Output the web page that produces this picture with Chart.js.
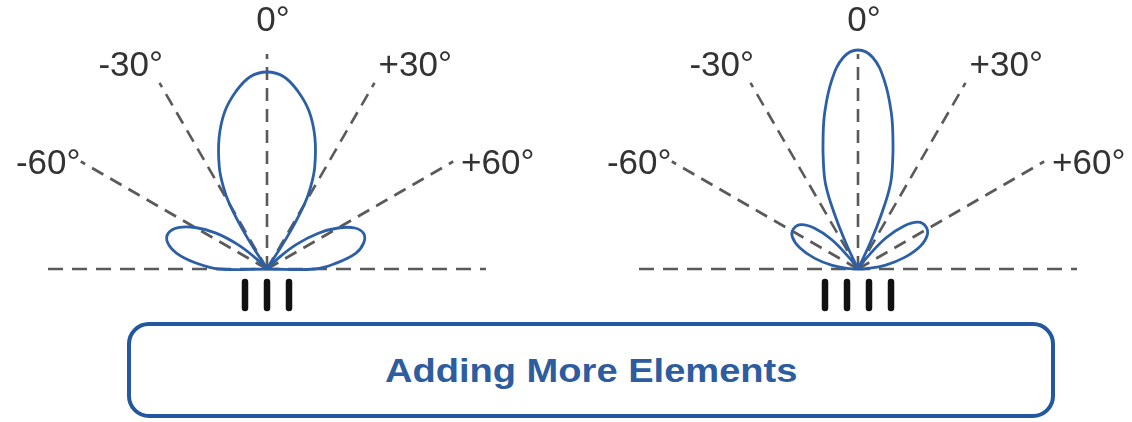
<!DOCTYPE html>
<html>
<head>
<meta charset="utf-8">
<script src="https://cdn.jsdelivr.net/npm/chart.js@4.4.1/dist/chart.umd.min.js"></script>
<style>
  body { margin: 0; background: #fff; }
  #wrap { position: relative; width: 1132px; height: 422px; overflow: hidden; }
  #chart { position: absolute; left: 0; top: 0; }
  #caption {
    position: absolute; left: 127px; top: 322px; width: 920px; height: 88px;
    border: 4px solid #23589e; border-radius: 22px; background: #fff;
    display: flex; align-items: center; justify-content: center;
  }
  #caption span {
    font-family: "Liberation Sans", Arial, sans-serif; font-weight: bold; font-size: 34px;
    color: #2d5c9f; display: inline-block; transform: scaleX(1.12);
  }
</style>
</head>
<body>
<div id="wrap">
  <canvas id="chart" width="1132" height="422"></canvas>
  <div id="caption"><span>Adding More Elements</span></div>
</div>
<script>
// Angles of the reference spokes and their labels
const spokeAngles = [-60, -30, 0, 30, 60];
const angleLabels = ['-60°', '-30°', '0°', '+30°', '+60°'];

// Number of antenna elements in each pattern
const elementCounts = [3, 4];

// Radiation pattern: [angle in degrees, radius]
const mainLobe3 = [[-33, 0], [-32, 40], [-30, 75], [-28, 93], [-25, 113], [-20, 140], [-15, 163], [-10, 180], [-5, 193], [0, 197],
  [5, 193], [10, 180], [15, 163], [20, 140], [25, 113], [28, 93], [30, 75], [32, 40], [33, 0]];
const leftLobe3 = [[-90, 0], [-90, 48], [-85, 72], [-80, 92], [-75, 103], [-70, 105], [-65, 98], [-60, 83], [-55, 63], [-50, 38], [-46, 15], [-43, 0]];
const rightLobe3 = [[43, 0], [46, 15], [50, 38], [55, 62], [60, 82], [65, 97], [70, 103], [75, 100], [80, 90], [85, 70], [90, 48], [90, 0]];

const mainLobe4 = [[-26, 0], [-25, 30], [-23, 62], [-21, 90], [-18, 112], [-15, 135], [-12, 160], [-8, 190], [-4, 212], [0, 219],
  [4, 212], [8, 190], [12, 160], [15, 135], [18, 112], [21, 90], [23, 62], [25, 30], [26, 0]];
const leftLobe4 = [[-35, 0], [-38, 15], [-42, 40], [-47, 60], [-52, 72], [-58, 76], [-64, 73], [-70, 62], [-76, 45], [-82, 26], [-88, 8], [-90, 0]];
const rightLobe4 = [[35, 0], [38, 15], [42, 42], [47, 63], [52, 76], [58, 80], [64, 77], [70, 66], [76, 48], [82, 28], [88, 8], [90, 0]];

// layout
const centers = [267, 858];
const spokeLength = 215;
const baseHalf = 219;
const labelRadius = 248;
const labelTurn = 5;
const elementGap = 22;
const lobeColor = '#2c5fa6';
const dashColor = '#5a5a5a';

const rad = a => a * Math.PI / 180;
const polar = (cx, pts) => pts.map(([a, r]) => ({ x: cx + r * Math.sin(rad(a)), y: r * Math.cos(rad(a)) }));

const datasets = [];
const patterns = [[mainLobe3, leftLobe3, rightLobe3], [mainLobe4, leftLobe4, rightLobe4]];

centers.forEach((cx, d) => {
  patterns[d].forEach(lobe => {
    datasets.push({ data: polar(cx, lobe), borderColor: lobeColor, borderWidth: 2.8, tension: 0.4 });
  });
  spokeAngles.forEach(a => {
    datasets.push({ data: polar(cx, [[a, 0], [a, spokeLength]]), borderColor: dashColor, borderWidth: 2.6, borderDash: [13, 8] });
  });
  datasets.push({ data: [{ x: cx - baseHalf, y: 0 }, { x: cx + baseHalf, y: 0 }], borderColor: dashColor, borderWidth: 2.6, borderDash: [15, 9] });
  const n = elementCounts[d];
  for (let i = 0; i < n; i++) {
    const ex = cx + (i - (n - 1) / 2) * elementGap;
    datasets.push({ data: [{ x: ex, y: -13 }, { x: ex, y: -39 }], borderColor: '#111', borderWidth: 6.5, borderCapStyle: 'round' });
  }
});

const labelPlugin = {
  id: 'angleLabels',
  afterDatasetsDraw(chart) {
    const { ctx, scales: { x, y } } = chart;
    ctx.save();
    ctx.font = '35px "Liberation Sans", Arial, sans-serif';
    ctx.fillStyle = '#333';
    ctx.textAlign = 'center';
    ctx.textBaseline = 'middle';
    centers.forEach(cx => {
      spokeAngles.forEach((a, i) => {
        const t = rad(a + Math.sign(a) * labelTurn);
        const px = x.getPixelForValue(cx + labelRadius * Math.sin(t)) + 6;
        const py = y.getPixelForValue(labelRadius * Math.cos(t));
        ctx.fillText(angleLabels[i], px, py);
      });
    });
    ctx.restore();
  }
};

new Chart(document.getElementById('chart'), {
  type: 'scatter',
  data: { datasets: datasets.map(ds => Object.assign({ showLine: true, pointRadius: 0, fill: false }, ds)) },
  options: {
    responsive: false,
    animation: false,
    layout: { padding: 0 },
    plugins: { legend: { display: false }, tooltip: { enabled: false } },
    scales: {
      x: { type: 'linear', min: 0, max: 1132, display: false },
      y: { type: 'linear', min: -153, max: 269, display: false }
    }
  },
  plugins: [labelPlugin]
});
</script>
</body>
</html>
